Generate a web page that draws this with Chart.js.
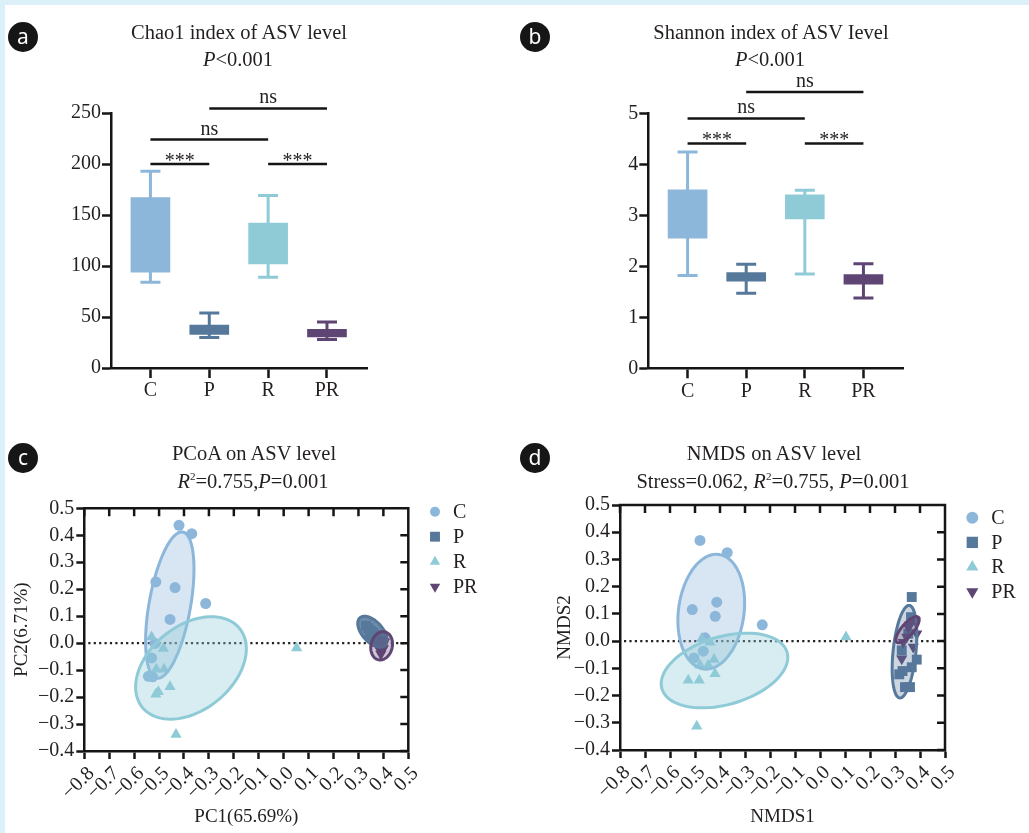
<!DOCTYPE html>
<html>
<head>
<meta charset="utf-8">
<script src="https://cdn.jsdelivr.net/npm/chart.js@4.4.0/dist/chart.umd.min.js"></script>
<style>
body { margin: 0; background: #fff; }
#page { position: relative; width: 1029px; height: 833px; background: #fff; overflow: hidden; }
.edge { position: absolute; background: #dcf0fa; }
canvas { position: absolute; }
.badge { position: absolute; width: 30px; height: 30px; border-radius: 50%; background: #161616; color: #fff;
         font: 21px "Noto Sans", sans-serif; text-align: center; line-height: 28px; }
.ttl { position: absolute; width: 420px; text-align: center; line-height: 24px; font: 20.5px "Liberation Serif", serif; color: #231f20; white-space: nowrap; }
.ttl sup { font-size: 11px; vertical-align: 8px; line-height: 0; }
</style>
</head>
<body>
<div id="page">
  <div class="edge" style="left:0;top:0;width:1029px;height:5px"></div>
  <div class="edge" style="left:0;top:0;width:5px;height:833px"></div>

  <canvas id="chartA" width="515" height="420" style="left:0;top:0"></canvas>
  <canvas id="chartB" width="514" height="420" style="left:515px;top:0"></canvas>
  <canvas id="chartC" width="515" height="413" style="left:0;top:420px"></canvas>
  <canvas id="chartD" width="514" height="413" style="left:515px;top:420px"></canvas>

  <div class="badge" style="left:8px;top:22px">a</div>
  <div class="badge" style="left:520px;top:22px">b</div>
  <div class="badge" style="left:8px;top:443px">c</div>
  <div class="badge" style="left:520px;top:443px">d</div>

  <div class="ttl" style="left:29px;top:21px">Chao1 index of ASV level</div>
  <div class="ttl" style="left:28px;top:48px"><i>P</i>&lt;0.001</div>
  <div class="ttl" style="left:561px;top:21px">Shannon index of ASV Ievel</div>
  <div class="ttl" style="left:560px;top:48px"><i>P</i>&lt;0.001</div>
  <div class="ttl" style="left:44px;top:442px">PCoA on ASV level</div>
  <div class="ttl" style="left:43px;top:470px"><i>R</i><sup>2</sup>=0.755,<i>P</i>=0.001</div>
  <div class="ttl" style="left:564px;top:442px">NMDS on ASV level</div>
  <div class="ttl" style="left:563px;top:470px">Stress=0.062, <i>R</i><sup>2</sup>=0.755, <i>P</i>=0.001</div>
</div>

<script>
// groups and colours
const groups = ['C', 'P', 'R', 'PR'];
const groupColors = ['#8db7da', '#56789b', '#8fcbd7', '#5f4574'];
const markerStyles = ['circle', 'rect', 'triangle', 'triangle'];
const markerRotation = [0, 0, 0, 180];

// a: Chao1 box plot (whisker low, box low, box high, whisker high)
const chaoMin = [84, 30, 89, 28];
const chaoQ1 = [94, 33, 102, 30.5];
const chaoQ3 = [167, 42, 142, 38];
const chaoMax = [193, 54, 169, 45];
const chaoTicks = [0, 50, 100, 150, 200, 250];
// brackets: from group, to group, height, label
const chaoBrackets = [[0, 1, 200, '***'], [2, 3, 200, '***'], [0, 2, 224, 'ns'], [1, 3, 254.5, 'ns']];

// b: Shannon box plot
const shanMin = [1.82, 1.47, 1.85, 1.38];
const shanQ1 = [2.55, 1.71, 2.93, 1.65];
const shanQ3 = [3.50, 1.875, 3.40, 1.84];
const shanMax = [4.24, 2.04, 3.49, 2.05];
const shanTicks = [0, 1, 2, 3, 4, 5];
const shanBrackets = [[0, 1, 4.41, '***'], [2, 3, 4.41, '***'], [0, 2, 4.9, 'ns'], [1, 3, 5.42, 'ns']];

// c: PCoA points
const pcoaX = [
  [-0.420, -0.369, -0.513, -0.436, -0.313, -0.456, -0.530, -0.543, -0.526, -0.516],
  [0.330, 0.340, 0.350, 0.360, 0.370, 0.380, 0.345, 0.360, 0.375, 0.390],
  [-0.530, -0.483, -0.511, -0.480, -0.513, -0.503, -0.456, -0.432, 0.052],
  [0.385, 0.395, 0.400, 0.390, 0.380, 0.405, 0.395, 0.390]
];
const pcoaY = [
  [0.437, 0.406, 0.227, 0.206, 0.147, 0.088, -0.055, -0.123, -0.125, -0.001],
  [0.065, 0.055, 0.045, 0.040, 0.030, 0.020, 0.030, 0.015, 0.005, 0.010],
  [0.023, -0.020, -0.097, -0.097, -0.190, -0.180, -0.162, -0.339, -0.018],
  [0.000, -0.005, -0.020, -0.030, -0.015, 0.005, 0.010, -0.040]
];
// ellipses: centre x, centre y, conjugate semi-axis u (x, y), v (x, y)
const pcoaEllipses = [
  [-0.457, 0.141, 0.052, 0.271, 0.082, -0.0135],
  [0.356, 0.042, 0.050, -0.052, 0.031, 0.025],
  [-0.372, -0.092, 0.195, 0.1465, 0.1063, -0.121],
  [0.393, -0.010, 0.012, 0.052, 0.042, -0.0074]
];

// d: NMDS points
const nmdsX = [
  [-0.480, -0.371, -0.511, -0.413, -0.419, -0.231, -0.460, -0.467, -0.504],
  [0.367, 0.364, 0.353, 0.327, 0.387, 0.367, 0.317, 0.340, 0.360, 0.330],
  [-0.473, -0.440, -0.480, -0.447, -0.424, -0.420, -0.527, -0.483, -0.493, 0.104],
  [0.327, 0.387, 0.380, 0.347, 0.333, 0.373, 0.353, 0.360]
];
const nmdsY = [
  [0.370, 0.325, 0.116, 0.143, 0.091, 0.060, 0.012, -0.037, -0.062],
  [0.162, 0.088, 0.027, -0.034, -0.068, -0.096, -0.122, -0.169, -0.169, -0.110],
  [0.009, -0.004, -0.089, -0.089, -0.068, -0.120, -0.144, -0.144, -0.313, 0.015],
  [-0.065, 0.027, 0.076, 0.015, -0.004, -0.022, 0.051, 0.060]
];
const nmdsEllipses = [
  [-0.435, 0.108, 0.0302, 0.2105, 0.130, -0.0157],
  [0.338, -0.039, 0.018, 0.170, 0.046, 0],
  [-0.382, -0.108, 0.2504, 0.0669, 0.0378, -0.1198],
  [0.350, 0.042, 0.0432, 0.0459, 0.018, -0.0143]
];

const FONT = "'Liberation Serif', 'Times New Roman', serif";
const INK = '#231f20';
const AXIS = '#151515';

function rgba(hex, a) {
  const n = parseInt(hex.slice(1), 16);
  return `rgba(${n >> 16},${(n >> 8) & 255},${n & 255},${a})`;
}
function fmtTick(v) {
  if (Math.abs(v) < 1e-9) return '0.0';
  const s = v.toFixed(1);
  return v < 0 ? '\u2212' + s.slice(1) : s;
}

function makeBoxPlugin(lo, hi, brackets) {
  return {
    id: 'boxExtras',
    beforeDatasetsDraw(chart) {
      const {ctx, scales: {x, y}} = chart;
      ctx.save();
      ctx.lineWidth = 3;
      groups.forEach((g, i) => {
        const px = x.getPixelForValue(i);
        const p0 = y.getPixelForValue(lo[i]), p1 = y.getPixelForValue(hi[i]);
        ctx.strokeStyle = groupColors[i];
        ctx.beginPath();
        ctx.moveTo(px, p0); ctx.lineTo(px, p1);
        ctx.moveTo(px - 10, p0); ctx.lineTo(px + 10, p0);
        ctx.moveTo(px - 10, p1); ctx.lineTo(px + 10, p1);
        ctx.stroke();
      });
      ctx.restore();
    },
    afterDraw(chart) {
      const {ctx, scales: {x, y}} = chart;
      ctx.save();
      ctx.strokeStyle = AXIS;
      ctx.lineWidth = 2.5;
      ctx.fillStyle = INK;
      ctx.font = '20px ' + FONT;
      ctx.textAlign = 'center';
      ctx.textBaseline = 'alphabetic';
      brackets.forEach(b => {
        const x0 = x.getPixelForValue(b[0]), x1 = x.getPixelForValue(b[1]);
        const py = y.getPixelForValue(b[2]);
        ctx.beginPath();
        ctx.moveTo(x0, py); ctx.lineTo(x1, py);
        ctx.stroke();
        const off = b[3].startsWith('*') ? 3 : -5;
        ctx.fillText(b[3], (x0 + x1) / 2, py + off);
      });
      ctx.restore();
    }
  };
}

function boxChart(id, q1, q3, lo, hi, ticks, brackets, pad) {
  return new Chart(document.getElementById(id), {
    type: 'bar',
    data: {
      datasets: [{
        data: groups.map((g, i) => ({x: i, y: [q1[i], q3[i]]})),
        backgroundColor: groupColors,
        borderWidth: 0,
        barThickness: 39
      }]
    },
    options: {
      responsive: false,
      animation: false,
      devicePixelRatio: 1,
      layout: {padding: pad},
      plugins: {legend: {display: false}, tooltip: {enabled: false}},
      scales: {
        x: {
          type: 'linear',
          offset: false,
          min: -0.67,
          max: 3.68,
          afterBuildTicks: axis => { axis.ticks = groups.map((g, i) => ({value: i})); },
          afterFit: axis => { axis.height = 40; },
          ticks: {callback: v => groups[v], font: {family: FONT, size: 20}, color: INK, padding: 1, maxRotation: 0, autoSkip: false},
          grid: {offset: false, drawOnChartArea: false, drawTicks: true, tickLength: 10, tickWidth: 2.5, color: AXIS},
          border: {display: true, width: 2.5, color: AXIS}
        },
        y: {
          min: ticks[0],
          max: ticks[ticks.length - 1],
          afterBuildTicks: axis => { axis.ticks = ticks.map(v => ({value: v})); },
          afterFit: axis => { axis.width = 50; },
          ticks: {font: {family: FONT, size: 20}, color: INK, padding: 1},
          grid: {drawOnChartArea: false, drawTicks: true, tickLength: 9, tickWidth: 2.5, color: AXIS},
          border: {display: true, width: 2.5, color: AXIS}
        }
      }
    },
    plugins: [makeBoxPlugin(lo, hi, brackets)]
  });
}

function makeOrdPlugin(ellipses, fillAlpha, legend) {
  return {
    id: 'ordExtras',
    beforeDatasetsDraw(chart) {
      const {ctx, chartArea: a, scales: {y}} = chart;
      const py = y.getPixelForValue(0);
      ctx.save();
      ctx.strokeStyle = '#222';
      ctx.lineWidth = 2.2;
      ctx.setLineDash([2.2, 3.2]);
      ctx.beginPath();
      ctx.moveTo(a.left + 4, py); ctx.lineTo(a.right, py);
      ctx.stroke();
      ctx.restore();
    },
    afterDatasetsDraw(chart) {
      const {ctx, scales: {x, y}} = chart;
      ctx.save();
      ellipses.forEach((e, i) => {
        ctx.beginPath();
        for (let k = 0; k <= 90; k++) {
          const t = k / 90 * Math.PI * 2;
          const px = x.getPixelForValue(e[0] + Math.cos(t) * e[2] + Math.sin(t) * e[4]);
          const py = y.getPixelForValue(e[1] + Math.cos(t) * e[3] + Math.sin(t) * e[5]);
          if (k) ctx.lineTo(px, py); else ctx.moveTo(px, py);
        }
        ctx.closePath();
        ctx.fillStyle = rgba(groupColors[i], fillAlpha[i]);
        ctx.fill();
        ctx.strokeStyle = groupColors[i];
        ctx.lineWidth = 3;
        ctx.stroke();
      });
      ctx.restore();
    },
    afterDraw(chart) {
      const {ctx, chartArea: a, scales: {x, y}} = chart;
      ctx.save();
      // mirrored frame with inward ticks
      ctx.strokeStyle = AXIS;
      ctx.lineWidth = 2.5;
      ctx.beginPath();
      ctx.moveTo(a.left - 1.25, a.top); ctx.lineTo(a.right, a.top); ctx.lineTo(a.right, a.bottom + 1.25);
      x.ticks.forEach(t => { const px = x.getPixelForValue(t.value); ctx.moveTo(px, a.top); ctx.lineTo(px, a.top + 8); });
      y.ticks.forEach(t => { const py = y.getPixelForValue(t.value); ctx.moveTo(a.right, py); ctx.lineTo(a.right - 8, py); });
      ctx.stroke();
      // legend
      ctx.font = '20px ' + FONT;
      ctx.textBaseline = 'middle';
      groups.forEach((g, i) => {
        const lx = a.right + legend.dx, ly = a.top + legend.dy + i * legend.step;
        ctx.fillStyle = groupColors[i];
        Chart.helpers.drawPoint(ctx, {pointStyle: markerStyles[i], radius: legend.radius[i], rotation: markerRotation[i], borderWidth: 0}, lx, ly);
        ctx.fillStyle = INK;
        ctx.fillText(g, lx + legend.textDx, ly + 1);
      });
      ctx.restore();
    }
  };
}

function ordChart(id, xs, ys, ellipses, fillAlpha, xTitle, yTitle, pad, axisW, axisH, legend) {
  const radii = [5.5, 7, 6.5, 6.5];
  return new Chart(document.getElementById(id), {
    type: 'scatter',
    data: {
      datasets: groups.map((g, i) => ({
        label: g,
        data: xs[i].map((v, k) => ({x: v, y: ys[i][k]})),
        pointStyle: markerStyles[i],
        rotation: markerRotation[i],
        pointRadius: radii[i],
        backgroundColor: groupColors[i],
        borderColor: groupColors[i],
        pointBorderWidth: 0,
        order: 4 - i
      }))
    },
    options: {
      responsive: false,
      animation: false,
      devicePixelRatio: 1,
      layout: {padding: pad},
      plugins: {legend: {display: false}, tooltip: {enabled: false}},
      scales: {
        x: {
          type: 'linear',
          min: -0.8,
          max: 0.5,
          afterFit: axis => { axis.height = axisH; },
          ticks: {stepSize: 0.1, autoSkip: false, minRotation: 45, maxRotation: 45, labelOffset: 7, padding: 3,
                  callback: v => fmtTick(v), font: {family: FONT, size: 20}, color: INK},
          grid: {drawOnChartArea: false, drawTicks: true, tickLength: 8, tickWidth: 2.5, color: AXIS},
          border: {display: true, width: 2.5, color: AXIS},
          title: {display: true, text: xTitle, font: {family: FONT, size: 19}, color: INK, padding: 0}
        },
        y: {
          min: -0.4,
          max: 0.5,
          afterFit: axis => { axis.width = axisW; },
          ticks: {stepSize: 0.1, autoSkip: false, padding: 2, callback: v => fmtTick(v), font: {family: FONT, size: 20}, color: INK},
          grid: {drawOnChartArea: false, drawTicks: true, tickLength: 8, tickWidth: 2.5, color: AXIS},
          border: {display: true, width: 2.5, color: AXIS},
          title: {display: true, text: yTitle, font: {family: FONT, size: 19}, color: INK, padding: 0}
        }
      }
    },
    plugins: [makeOrdPlugin(ellipses, fillAlpha, legend)]
  });
}

boxChart('chartA', chaoQ1, chaoQ3, chaoMin, chaoMax, chaoTicks, chaoBrackets,
         {left: 61, right: 148, top: 113, bottom: 12});
boxChart('chartB', shanQ1, shanQ3, shanMin, shanMax, shanTicks, shanBrackets,
         {left: 83.3, right: 125.7, top: 113.3, bottom: 11.7});
ordChart('chartC', pcoaX, pcoaY, pcoaEllipses, [0.35, 0.85, 0.35, 0.3], 'PC1(65.69%)', 'PC2(6.71%)',
         {left: 10.3, right: 106.7, top: 88.3, bottom: 4.9}, 74, 77.1,
         {dx: 26.7, dy: 3.4, step: 25, textDx: 18, radius: [5, 7, 6, 6]});
ordChart('chartD', nmdsX, nmdsY, nmdsEllipses, [0.35, 0.3, 0.35, 0.25], 'NMDS1', 'NMDS2',
         {left: 38.6, right: 84, top: 85, bottom: 4.9}, 66.4, 78.1,
         {dx: 27.3, dy: 12.7, step: 24.7, textDx: 19, radius: [6, 8, 7, 7]});
</script>
</body>
</html>
